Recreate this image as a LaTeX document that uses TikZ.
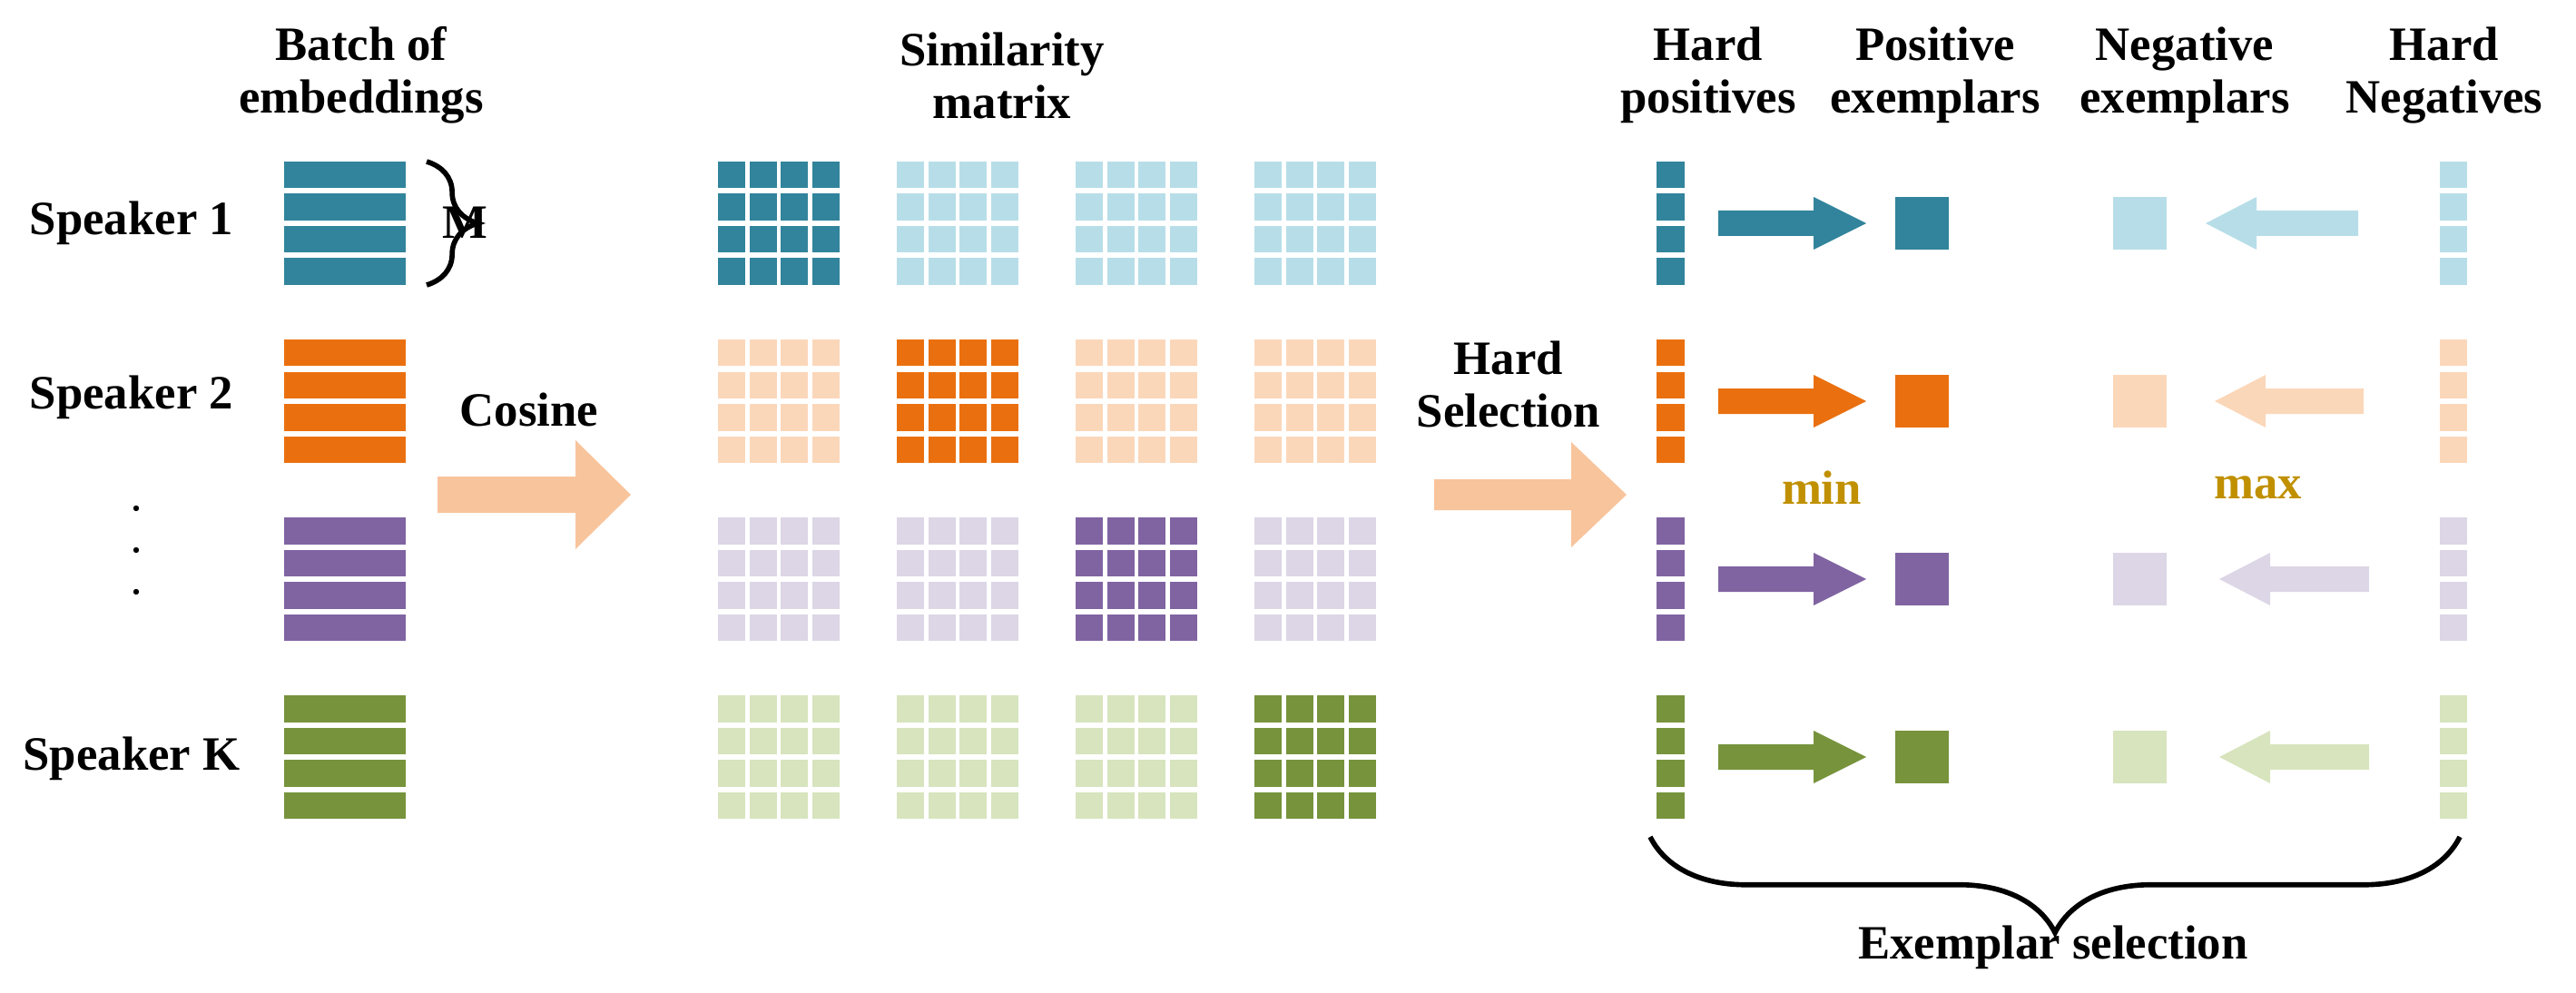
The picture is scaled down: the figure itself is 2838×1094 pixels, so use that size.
\documentclass[tikz,border=0pt]{standalone}
\usepackage{fontspec}
\setmainfont{Liberation Serif}
\usetikzlibrary{decorations.pathreplacing}
\definecolor{dA}{HTML}{31849B}\definecolor{lA}{HTML}{B7DEE8}
\definecolor{dB}{HTML}{EA700F}\definecolor{lB}{HTML}{FBD7BA}
\definecolor{dC}{HTML}{8064A2}\definecolor{lC}{HTML}{DCD6E6}
\definecolor{dD}{HTML}{77933C}\definecolor{lD}{HTML}{D7E4BD}
\definecolor{peach}{HTML}{F8C49C}
\definecolor{gold}{HTML}{C09000}
\begin{document}
\begin{tikzpicture}[x=0.01cm,y=-0.01cm,
  lbl/.style={font=\bfseries\fontsize{15}{16.5}\selectfont,align=center,inner sep=0pt},
  mm/.style={font=\bfseries\fontsize{15}{16.5}\selectfont,text=gold,inner sep=0pt}]
\useasboundingbox (0,0) rectangle (2838,1094);
% headers
\node[lbl] (h1) at (398,83) {Batch of\\embeddings};
\node[lbl] (h2) at (1104,83) {Similarity\\matrix};
\node[lbl] (h3) at (1882,83) {Hard\\positives};
\node[lbl] (h4) at (2132,83) {Positive\\exemplars};
\node[lbl] (h5) at (2407,83) {Negative\\exemplars};
\node[lbl] (h6) at (2693,83) {Hard\\Negatives};
% speakers
\node[lbl] (s1) at (145,246) {Speaker 1};
\node[lbl] (s2) at (145,438) {Speaker 2};
\node[lbl] (sk) at (145,836) {Speaker K};
\foreach \yy in {560,606,652} \fill (150,\yy) circle (3.2);
% rows
\foreach \r/\dk/\lt/\tail/\tip/\ntail in {0/dA/lA/2598/2430/2598,1/dB/lB/2604/2440/2604,2/dC/lC/2610/2445/2610,3/dD/lD/2610/2445/2610}{
  \pgfmathsetmacro{\yo}{178+196*\r}
  \pgfmathsetmacro{\yc}{\yo+68}
  \foreach \i in {0,...,3}{
    \pgfmathsetmacro{\ya}{\yo+35.5*\i}
    \fill[\dk] (313,\ya) rectangle ++(134,29.5);
    \fill[\dk] (1825,\ya) rectangle ++(31,29.5);
    \fill[\lt] (2688,\ya) rectangle ++(30,29.5);
    \foreach \m in {0,...,3}{
      \pgfmathsetmacro{\xm}{791+197*\m}
      \ifnum\m=\r \def\cc{\dk}\else\def\cc{\lt}\fi
      \foreach \j in {0,...,3}{
        \fill[\cc] (\xm+34.5*\j,\ya) rectangle ++(30,29.5);
      }
    }
  }
  \fill[\dk] (1893,\yc-14) -- (1998,\yc-14) -- (1998,\yc-29) -- (2056,\yc) -- (1998,\yc+29) -- (1998,\yc+14) -- (1893,\yc+14) -- cycle;
  \fill[\dk] (2088,\yc-29) rectangle (2147,\yc+29);
  \fill[\lt] (2328,\yc-29) rectangle (2387,\yc+29);
  \fill[\lt] (\ntail,\yc-14) -- (\tip+56,\yc-14) -- (\tip+56,\yc-29) -- (\tip,\yc) -- (\tip+56,\yc+29) -- (\tip+56,\yc+14) -- (\ntail,\yc+14) -- cycle;
}
% brace M
\draw[line width=1.6pt,decoration={brace,amplitude=16},decorate] (470,178) -- (470,314);
\node[lbl] (M) at (512,245) {M};
% cosine arrow
\fill[peach] (482,525) -- (634,525) -- (634,485) -- (695,545) -- (634,605) -- (634,565) -- (482,565) -- cycle;
\node[lbl] (cos) at (583,451) {Cosine};
% hard selection arrow
\fill[peach] (1580,528) -- (1731,528) -- (1731,487) -- (1792,545) -- (1731,603) -- (1731,562) -- (1580,562) -- cycle;
\node[lbl] (hs) at (1662,423) {Hard\\Selection};
\node[mm] (min) at (2007,537) {min};
\node[mm] (max) at (2488,537) {max};
% bottom brace
\draw[line width=1.6pt,decoration={brace,amplitude=30,mirror},decorate] (1818,922) -- (2710,922);
\node[lbl] (ex) at (2262,1044) {Exemplar selection};
\end{tikzpicture}
\end{document}
